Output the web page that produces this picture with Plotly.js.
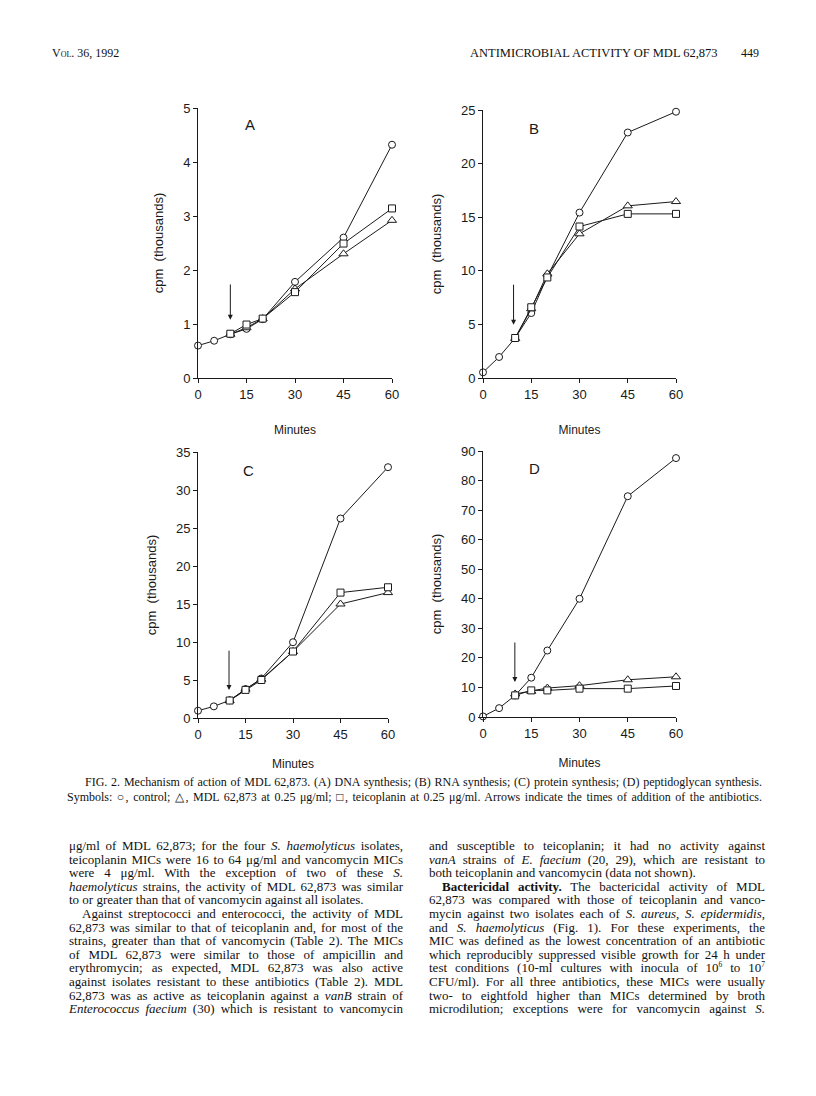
<!DOCTYPE html>
<html>
<head>
<meta charset="utf-8">
<script src="https://cdn.plot.ly/plotly-3.0.1.min.js"></script>
<style>
  html, body { margin: 0; padding: 0; background: #fff; }
  #page { position: relative; width: 816px; height: 1096px; overflow: hidden; }
  #plot { position: absolute; left: 0; top: 0; width: 816px; height: 1096px; }
  .txt { position: absolute; font-family: "Liberation Serif", "Times New Roman", serif; color: #111; }
  .line { text-align: justify; text-align-last: justify; white-space: nowrap; height: 13.6px; line-height: 13.6px; }
  .last { text-align-last: left; }
  .ind { padding-left: 13px; }
  .col { font-size: 13px; }
  .cap { font-size: 12px; }
  .cap .line { height: 15px; line-height: 15px; }
  sup { font-size: 7.5px; line-height: 0; }
</style>
</head>
<body>
<div id="page">
  <div id="plot"></div>

  <div class="txt" style="left:52px; top:46px; font-size:12px; font-variant:small-caps;">Vol. 36, 1992</div>
  <div class="txt" style="left:470px; top:46px; font-size:12.5px; width:243px; text-align:justify; text-align-last:justify; white-space:nowrap;">ANTIMICROBIAL ACTIVITY OF MDL 62,873</div>
  <div class="txt" style="left:741px; top:46px; font-size:12px;">449</div>

  <div class="txt cap" style="left:67px; top:775px; width:695px;">
    <div class="line" style="padding-left:18px;">FIG. 2. Mechanism of action of MDL 62,873. (A) DNA synthesis; (B) RNA synthesis; (C) protein synthesis; (D) peptidoglycan synthesis.</div>
    <div class="line">Symbols: ○, control; △, MDL 62,873 at 0.25 μg/ml; □, teicoplanin at 0.25 μg/ml. Arrows indicate the times of addition of the antibiotics.</div>
  </div>

  <div class="txt col" style="left:69px; top:839px; width:334px;">
    <div class="line">μg/ml of MDL 62,873; for the four <i>S. haemolyticus</i> isolates,</div>
    <div class="line">teicoplanin MICs were 16 to 64 μg/ml and vancomycin MICs</div>
    <div class="line">were 4 μg/ml. With the exception of two of these <i>S.</i></div>
    <div class="line"><i>haemolyticus</i> strains, the activity of MDL 62,873 was similar</div>
    <div class="line last">to or greater than that of vancomycin against all isolates.</div>
    <div class="line ind">Against streptococci and enterococci, the activity of MDL</div>
    <div class="line">62,873 was similar to that of teicoplanin and, for most of the</div>
    <div class="line">strains, greater than that of vancomycin (Table 2). The MICs</div>
    <div class="line">of MDL 62,873 were similar to those of ampicillin and</div>
    <div class="line">erythromycin; as expected, MDL 62,873 was also active</div>
    <div class="line">against isolates resistant to these antibiotics (Table 2). MDL</div>
    <div class="line">62,873 was as active as teicoplanin against a <i>vanB</i> strain of</div>
    <div class="line"><i>Enterococcus faecium</i> (30) which is resistant to vancomycin</div>
  </div>

  <div class="txt col" style="left:429px; top:839px; width:336px;">
    <div class="line">and susceptible to teicoplanin; it had no activity against</div>
    <div class="line"><i>vanA</i> strains of <i>E. faecium</i> (20, 29), which are resistant to</div>
    <div class="line last">both teicoplanin and vancomycin (data not shown).</div>
    <div class="line ind"><b>Bactericidal activity.</b> The bactericidal activity of MDL</div>
    <div class="line">62,873 was compared with those of teicoplanin and vanco-</div>
    <div class="line">mycin against two isolates each of <i>S. aureus</i>, <i>S. epidermidis</i>,</div>
    <div class="line">and <i>S. haemolyticus</i> (Fig. 1). For these experiments, the</div>
    <div class="line">MIC was defined as the lowest concentration of an antibiotic</div>
    <div class="line">which reproducibly suppressed visible growth for 24 h under</div>
    <div class="line">test conditions (10-ml cultures with inocula of 10<sup>6</sup> to 10<sup>7</sup></div>
    <div class="line">CFU/ml). For all three antibiotics, these MICs were usually</div>
    <div class="line">two- to eightfold higher than MICs determined by broth</div>
    <div class="line">microdilution; exceptions were for vancomycin against <i>S.</i></div>
  </div>
</div>

<script>
// ---- Data (cpm, thousands) ----
var minutesControl = [0, 5, 10, 15, 20, 30, 45, 60];
var minutesDrug = [10, 15, 20, 30, 45, 60];
var xTicks = [0, 15, 30, 45, 60];

// (A) DNA synthesis
var A_control = [0.60, 0.69, 0.81, 0.91, 1.09, 1.78, 2.60, 4.32];
var A_mdl     = [0.81, 0.93, 1.10, 1.65, 2.30, 2.92];
var A_teico   = [0.82, 0.99, 1.10, 1.59, 2.49, 3.14];

// (B) RNA synthesis
var B_control = [0.53, 1.96, 3.73, 6.06, 9.47, 15.43, 22.9, 24.84];
var B_mdl     = [3.70, 6.46, 9.72, 13.45, 16.06, 16.46];
var B_teico   = [3.73, 6.60, 9.38, 14.13, 15.31, 15.31];

// (C) protein synthesis
var C_control = [0.96, 1.53, 2.32, 3.80, 5.20, 9.97, 26.25, 33.0];
var C_mdl     = [2.30, 3.80, 5.10, 8.75, 15.0, 16.5];
var C_teico   = [2.30, 3.70, 5.00, 8.75, 16.5, 17.2];

// (D) peptidoglycan synthesis
var D_control = [0.2, 3.0, 7.3, 13.3, 22.5, 40.0, 74.7, 87.6];
var D_mdl     = [7.8, 8.7, 9.8, 10.6, 12.6, 13.6];
var D_teico   = [7.3, 9.0, 9.0, 9.6, 9.6, 10.5];

var panelLetters = ['A', 'B', 'C', 'D'];
var yMax = [5, 25, 35, 90];
var yStep = [1, 5, 5, 10];
var xTitleStandoff = [25, 25, 19, 19];
// arrow: [x, tipY, tailY]
var arrows = [[10, 1.08, 1.76], [9.5, 4.97, 8.85], [9.8, 3.7, 9.05], [9.9, 11.8, 25.7]];
var letterPos = [[16, 4.69], [15.8, 23.3], [16.1, 32.6], [16.1, 84]];

var panels = [
  [A_control, A_mdl, A_teico],
  [B_control, B_mdl, B_teico],
  [C_control, C_mdl, C_teico],
  [D_control, D_mdl, D_teico]
];

// ---- Layout geometry ----
var W = 816, H = 1096;
function dx(a, b) { return [a / W, b / W]; }
function dy(top, bottom) { return [1 - bottom / H, 1 - top / H]; }
var domains = [
  {x: dx(198, 392), y: dy(108, 378)},
  {x: dx(483, 676), y: dy(110, 378)},
  {x: dx(198, 388), y: dy(452, 718)},
  {x: dx(483, 676), y: dy(451, 717)}
];

var FONT = '"Liberation Sans", Arial, sans-serif';
var INK = '#1a1a1a';
var traces = [];
var layout = {
  width: W, height: H,
  margin: {l: 0, r: 0, t: 0, b: 0},
  showlegend: false,
  paper_bgcolor: 'rgba(0,0,0,0)',
  plot_bgcolor: 'rgba(0,0,0,0)',
  font: {family: FONT, color: INK},
  annotations: []
};

var symbols = ['circle', 'triangle-up', 'square'];
var sizes = [7, 8, 7];

panels.forEach(function (series, i) {
  var n = i + 1;
  var xa = 'x' + (n === 1 ? '' : n), ya = 'y' + (n === 1 ? '' : n);
  series.forEach(function (vals, s) {
    traces.push({
      type: 'scatter', mode: 'lines+markers',
      x: s === 0 ? minutesControl : minutesDrug,
      y: vals,
      xaxis: xa, yaxis: ya,
      cliponaxis: false,
      line: {color: INK, width: 1},
      marker: {symbol: symbols[s], size: sizes[s], color: '#fff', line: {color: INK, width: 1}},
      hoverinfo: 'x+y'
    });
  });
  var yt = [];
  for (var v = 0; v <= yMax[i]; v += yStep[i]) yt.push(v);
  layout['xaxis' + (n === 1 ? '' : n)] = {
    domain: domains[i].x, anchor: ya, range: [0, 60],
    tickvals: xTicks, ticks: 'outside', ticklen: 4, tickwidth: 1, tickcolor: INK,
    showline: true, linecolor: INK, linewidth: 1, showgrid: false, zeroline: false,
    tickfont: {family: FONT, size: 13, color: INK},
    title: {text: 'Minutes', font: {family: FONT, size: 12, color: INK}, standoff: xTitleStandoff[i]},
    automargin: false, fixedrange: true
  };
  layout['yaxis' + (n === 1 ? '' : n)] = {
    domain: domains[i].y, anchor: xa, range: [0, yMax[i]],
    tickvals: yt, ticks: 'outside', ticklen: 4, tickwidth: 1, tickcolor: INK,
    showline: true, linecolor: INK, linewidth: 1, showgrid: false, zeroline: false,
    tickfont: {family: FONT, size: 13, color: INK},
    title: {text: 'cpm  (thousands)', font: {family: FONT, size: 13, color: INK}, standoff: 16},
    automargin: false, fixedrange: true
  };
  var a = arrows[i];
  layout.annotations.push({
    xref: xa, yref: ya, axref: xa, ayref: ya,
    x: a[0], y: a[1], ax: a[0], ay: a[2],
    text: '', showarrow: true, arrowhead: 2, arrowsize: 1, arrowwidth: 1, arrowcolor: INK
  });
  layout.annotations.push({
    xref: xa, yref: ya, x: letterPos[i][0], y: letterPos[i][1],
    text: panelLetters[i], showarrow: false,
    font: {family: FONT, size: 15, color: INK}
  });
});

Plotly.newPlot('plot', traces, layout, {staticPlot: true, displayModeBar: false});
</script>
</body>
</html>
